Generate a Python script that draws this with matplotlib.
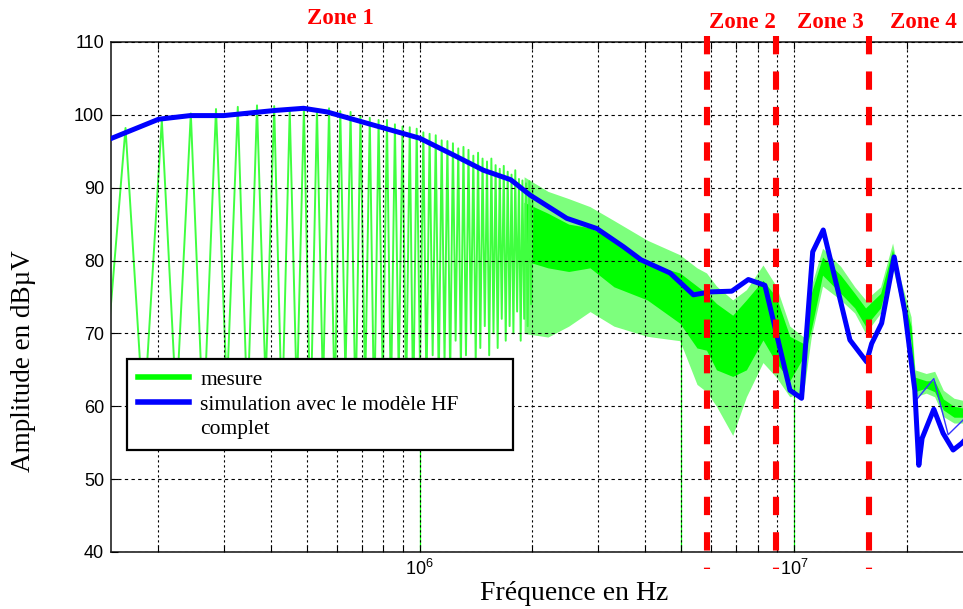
import matplotlib
matplotlib.use("Agg")
import numpy as np
import matplotlib.pyplot as plt
from matplotlib.lines import Line2D
from matplotlib.ticker import NullFormatter, FixedLocator

plt.rcParams['font.family'] = ['Liberation Sans', 'DejaVu Sans']
plt.rcParams['mathtext.default'] = 'regular'

# --- measured spectrum, low frequency harmonic comb (kHz / dBuV) ---
comb_peak_khz = [164, 205, 245, 286, 327, 368, 409, 450, 491, 532, 573, 614,
                 654, 695, 736, 777, 818, 859, 900, 941, 982, 1023, 1063, 1104,
                 1145, 1186, 1227, 1268, 1309, 1350, 1391, 1432, 1472, 1513,
                 1554, 1595, 1636, 1677, 1718, 1759, 1800, 1841, 1881, 1922,
                 1963, 2004]
comb_peak_db = [98.2, 99.3, 100.2, 100.8, 101.1, 101.3, 101.2, 100.7, 101.0,
                100.8, 100.9, 100.5, 100.4, 99.8, 99.6, 99.3, 99.3, 98.7, 98.4,
                98.3, 98.1, 97.6, 97.4, 97.2, 96.5, 96.4, 96.1, 95.4, 95.6,
                95.2, 94.4, 94.8, 94.0, 93.6, 94.0, 93.1, 92.6, 93.0, 92.2,
                91.8, 92.4, 91.2, 91.0, 90.6, 90.9, 90.0]
# trough before each peak
comb_trough_db = [68, 58, 60, 57, 62, 59, 63, 58, 61, 57, 62, 60, 64, 59, 62,
                  58, 63, 60, 64, 61, 59, 65, 62, 67, 63, 66, 64, 69, 65, 67,
                  70, 66, 68, 71, 67, 70, 68, 72, 69, 71, 70, 73, 69, 72, 71, 74]

# --- measured spectrum, dense part: envelopes (Hz / dBuV) ---
band_hz = [1.9e6, 2.2e6, 2.5e6, 2.85e6, 3.3e6, 4.05e6, 4.95e6, 5.5e6, 5.83e6,
           6.2e6, 6.85e6, 7.45e6, 8.25e6, 8.95e6, 9.73e6, 1.06e7, 1.11e7,
           1.19e7, 1.33e7, 1.45e7, 1.55e7, 1.7e7, 1.83e7, 1.9e7, 2.05e7,
           2.1e7, 2.25e7, 2.37e7, 2.5e7, 2.67e7, 3.0e7]
band_top = [91.5, 89.5, 88.5, 87.4, 85.5, 82.8, 80.8, 79.0, 78.3, 76.5, 74.6,
            76.0, 79.4, 76.5, 71.0, 69.5, 76.5, 81.7, 79.2, 76.4, 74.6, 76.4,
            82.4, 78.3, 72.3, 65.0, 64.5, 64.8, 62.2, 61.1, 60.5]
core_top = [88.0, 86.5, 85.0, 84.5, 82.8, 79.6, 78.3, 76.5, 75.5, 74.1, 72.5,
            74.6, 77.3, 75.0, 69.6, 68.6, 75.5, 80.5, 78.0, 75.5, 73.5, 75.5,
            81.5, 77.5, 71.0, 64.0, 63.5, 63.5, 61.0, 60.0, 59.5]
core_bot = [80.0, 79.0, 78.5, 79.0, 76.4, 74.6, 71.4, 68.0, 67.7, 65.0, 64.1,
            65.0, 69.1, 66.0, 63.5, 66.8, 70.5, 78.0, 75.5, 73.5, 71.0, 73.5,
            80.0, 76.0, 69.0, 62.0, 62.5, 62.0, 59.5, 58.5, 58.5]
band_bot = [70.0, 69.5, 71.0, 73.0, 71.0, 69.6, 69.0, 63.0, 62.0, 60.0, 56.0,
            61.3, 66.0, 64.0, 61.3, 62.0, 69.5, 76.5, 74.6, 72.8, 70.0, 72.8,
            79.2, 75.5, 68.2, 61.3, 61.8, 61.3, 58.6, 57.7, 57.7]
# isolated deep spikes
spike_hz = [1e6, 5e6, 1e7]
spike_top = [62.0, 70.5, 63.0]

# --- simulation (Hz / dBuV) ---
sim_hz = [1.509e5, 2.01e5, 2.44e5, 3.0e5, 4.1e5, 4.9e5, 5.66e5, 1.0e6, 1.23e6,
          1.48e6, 1.75e6, 1.97e6, 2.47e6, 2.97e6, 3.5e6, 3.9e6, 4.66e6, 5.38e6,
          5.96e6, 6.81e6, 7.54e6, 8.35e6, 9.74e6, 1.046e7, 1.12e7, 1.195e7,
          1.408e7, 1.56e7, 1.609e7, 1.711e7, 1.848e7, 1.973e7, 2.098e7,
          2.15e7, 2.194e7, 2.358e7, 2.496e7, 2.655e7, 2.795e7, 3.0e7]
sim_db = [96.8, 99.4, 99.9, 99.9, 100.6, 100.9, 100.4, 96.8, 94.5, 92.4, 91.1,
          89.0, 85.8, 84.4, 81.9, 80.1, 78.3, 75.3, 75.7, 75.8, 77.4, 76.6, 62.2,
          61.1, 81.2, 84.2, 69.1, 66.1, 68.6, 71.4, 80.5, 73.0, 62.2, 51.9, 55.6,
          59.6, 56.3, 54.0, 54.9, 56.5]
sim2_hz = [1.973e7, 2.12e7, 2.358e7, 2.575e7, 2.795e7, 3.0e7]
sim2_db = [73.0, 60.9, 63.8, 56.1, 57.9, 59.5]

zone_bounds = [5.85e6, 8.94e6, 1.58e7]
zone_labels = ["Zone 1", "Zone 2", "Zone 3", "Zone 4"]
zone_label_px = [(340, 18), (742, 23), (830, 23), (923, 23)]

W, H = 963, 609
fig = plt.figure(figsize=(W / 100, H / 100), dpi=100)
ax = fig.add_axes([111 / W, 1 - 552 / H, (973 - 111) / W, (552 - 42) / H])

# comb as zigzag: trough (geometric midpoint) -> peak
pk = np.array(comb_peak_khz) * 1e3
tr_f = np.sqrt(pk[1:] * pk[:-1])
tr_f = np.concatenate([[pk[0] * np.sqrt(pk[0] / pk[1])], tr_f])
cx = np.empty(2 * len(pk))
cy = np.empty(2 * len(pk))
cx[0::2], cx[1::2] = tr_f, pk
cy[0::2], cy[1::2] = comb_trough_db, comb_peak_db

green = '#00ff00'
ax.fill_between(band_hz, band_bot, band_top, color='#7dff7d', lw=0, zorder=1.5)
ax.fill_between(band_hz, core_bot, core_top, color=green, lw=0, zorder=1.6)
ax.plot(cx, cy, color='#40ff40', lw=1.4, zorder=2)
ax.vlines(spike_hz, 30, spike_top, color=green, lw=0.9, zorder=2)

ax.plot(sim2_hz, sim2_db, color='#3333ff', lw=1.0, zorder=3)
ax.plot(sim_hz, sim_db, color='#0000ff', lw=3.6, zorder=3.1,
        solid_joinstyle='round')

# drawn top -> bottom so the dash pattern starts at the top
for f in zone_bounds:
    ax.axvline(f, ymin=1.012, ymax=-0.033, color='#ff0000', lw=4.4,
               dashes=(3.0, 2.8), clip_on=False, zorder=4)

ax.set_xscale('log')
ax.set_xlim(1.5e5, 3e7)
ax.set_ylim(40, 110)
ax.set_yticks(range(40, 111, 10))
ax.xaxis.set_major_locator(FixedLocator([1e6, 1e7]))
ax.xaxis.set_minor_locator(FixedLocator(
    [m * 10 ** e for e in (5, 6, 7) for m in range(2, 10) if 1.5e5 <= m * 10 ** e <= 3e7]))
ax.xaxis.set_minor_formatter(NullFormatter())
ax.set_axisbelow(False)
ax.grid(True, which='both', axis='x', color='black', lw=0.8, ls=(0, (2, 2.5)))
ax.grid(True, which='major', axis='y', color='black', lw=0.8, ls=(0, (3, 3)))
ax.tick_params(which='both', direction='in', top=True, right=True,
               labelsize=13, length=5, width=0.8, pad=5)
for s in ax.spines.values():
    s.set_linewidth(1.2)
    s.set_color('#222222')

handles = [Line2D([], [], color=green, lw=4),
           Line2D([], [], color='#0000ff', lw=4),
           Line2D([], [], color='none', lw=4)]
leg = ax.legend(handles, ["mesure", "simulation avec le modèle HF", "complet"],
                loc='upper left',
                bbox_to_anchor=(16 / 862, (552 - 449) / 510, (513 - 127) / 862, 90 / 510),
                mode='expand', borderaxespad=0, fancybox=False, framealpha=1,
                edgecolor='black',
                prop={'family': 'Liberation Serif', 'size': 15.5},
                handlelength=2.4, handletextpad=0.5, labelspacing=0.22,
                borderpad=0.5)
leg.get_frame().set_linewidth(1.6)
leg.set_zorder(6)

serif = ['Liberation Serif', 'DejaVu Serif']
fig.text(23 / W, 1 - 361 / H, "Amplitude en dBµV", rotation=90, ha='center',
         va='center', family=serif, fontsize=19.5)
fig.text(574 / W, 1 - 593 / H, "Fréquence en Hz", ha='center', va='center',
         family=serif, fontsize=20)
for lab, (px, py) in zip(zone_labels, zone_label_px):
    fig.text(px / W, 1 - py / H, lab, ha='center', va='center', family=serif,
             fontsize=16.5, fontweight='bold', color='#ff0000')

fig.savefig("out.png", dpi=100)
